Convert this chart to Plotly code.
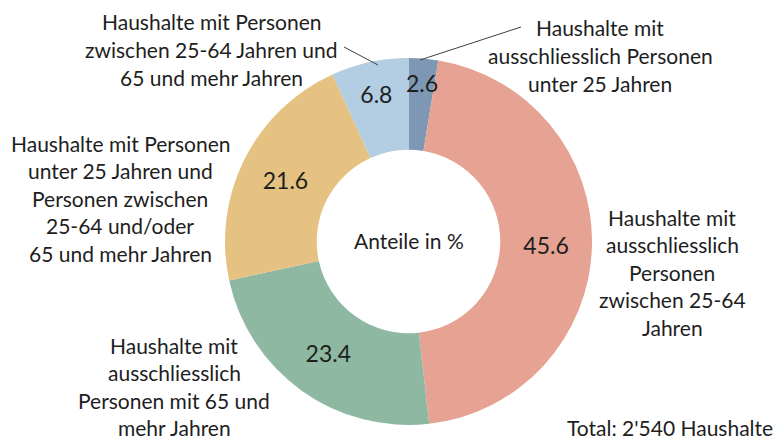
import plotly.graph_objects as go

# Data
categories = [
    "Haushalte mit ausschliesslich Personen unter 25 Jahren",
    "Haushalte mit ausschliesslich Personen zwischen 25-64 Jahren",
    "Haushalte mit ausschliesslich Personen mit 65 und mehr Jahren",
    "Haushalte mit Personen unter 25 Jahren und Personen zwischen 25-64 und/oder 65 und mehr Jahren",
    "Haushalte mit Personen zwischen 25-64 Jahren und 65 und mehr Jahren",
]
values = [2.6, 45.6, 23.4, 21.6, 6.8]
value_text = ["2.6", "45.6", "23.4", "21.6", "6.8"]
colors = ["#7d97b4", "#e6a393", "#8fb8a2", "#e5c281", "#b3cde3"]

label_lines = [
    ["Haushalte mit", "ausschliesslich Personen", "unter 25 Jahren"],
    ["Haushalte mit", "ausschliesslich", "Personen", "zwischen 25-64", "Jahren"],
    ["Haushalte mit", "ausschliesslich", "Personen mit 65 und", "mehr Jahren"],
    ["Haushalte mit Personen", "unter 25 Jahren und", "Personen zwischen", "25-64 und/oder", "65 und mehr Jahren"],
    ["Haushalte mit Personen", "zwischen 25-64 Jahren und", "65 und mehr Jahren"],
]
# label anchor positions in pixels (center x, first-line y)
label_pos = [(600, 28), (672, 217), (174, 345), (120, 143), (211, 22)]
line_gap = 27.5

W, H = 779, 439
ml, mr, mt, mb = 225, 187, 58, 14
pw, ph = W - ml - mr, H - mt - mb


def px(x):
    return (x - ml) / pw


def py(y):
    return 1 - (y - mt) / ph


FONT = "Lato, Calibri, Carlito, sans-serif"
TXT = "#1e1e1e"

# the tiny first slice gets its value as a separate label (Excel places it near the rim)
inside_text = [""] + value_text[1:]

fig = go.Figure(
    go.Pie(
        labels=categories,
        values=values,
        text=inside_text,
        textinfo="text",
        textposition="inside",
        insidetextorientation="horizontal",
        textfont=dict(family=FONT, size=23, color=TXT),
        marker=dict(colors=colors, line=dict(width=0)),
        hole=0.5,
        sort=False,
        direction="clockwise",
        rotation=0,
        showlegend=False,
        hoverinfo="label+value",
        domain=dict(x=[0, 1], y=[0, 1]),
    )
)

annotations = []
for lines, (cx, cy) in zip(label_lines, label_pos):
    for i, ln in enumerate(lines):
        annotations.append(
            dict(
                x=px(cx), y=py(cy + i * line_gap), xref="paper", yref="paper",
                text=ln, showarrow=False, xanchor="center", yanchor="middle",
                font=dict(family=FONT, size=21, color=TXT),
            )
        )

annotations.append(
    dict(x=px(422), y=py(83), xref="paper", yref="paper", text=value_text[0],
         showarrow=False, xanchor="center", yanchor="middle",
         font=dict(family=FONT, size=23, color=TXT))
)
annotations.append(
    dict(x=px(409), y=py(241), xref="paper", yref="paper", text="Anteile in %",
         showarrow=False, xanchor="center", yanchor="middle",
         font=dict(family=FONT, size=21, color=TXT))
)
annotations.append(
    dict(x=px(775), y=py(427), xref="paper", yref="paper", text="Total: 2'540 Haushalte",
         showarrow=False, xanchor="right", yanchor="middle",
         font=dict(family=FONT, size=21, color=TXT))
)

leaders = [((420, 60), (521, 27)), ((378, 65), (344, 47))]
shapes = [
    dict(type="line", xref="paper", yref="paper",
         x0=px(a[0]), y0=py(a[1]), x1=px(b[0]), y1=py(b[1]),
         line=dict(color="#404040", width=1))
    for a, b in leaders
]

fig.update_layout(
    width=W, height=H,
    margin=dict(l=ml, r=mr, t=mt, b=mb, pad=0),
    paper_bgcolor="white", plot_bgcolor="white",
    annotations=annotations, shapes=shapes,
)

fig.write_html(
    "out.html",
    config={"displayModeBar": False},
    post_script="document.body.style.margin='0px';",
)
